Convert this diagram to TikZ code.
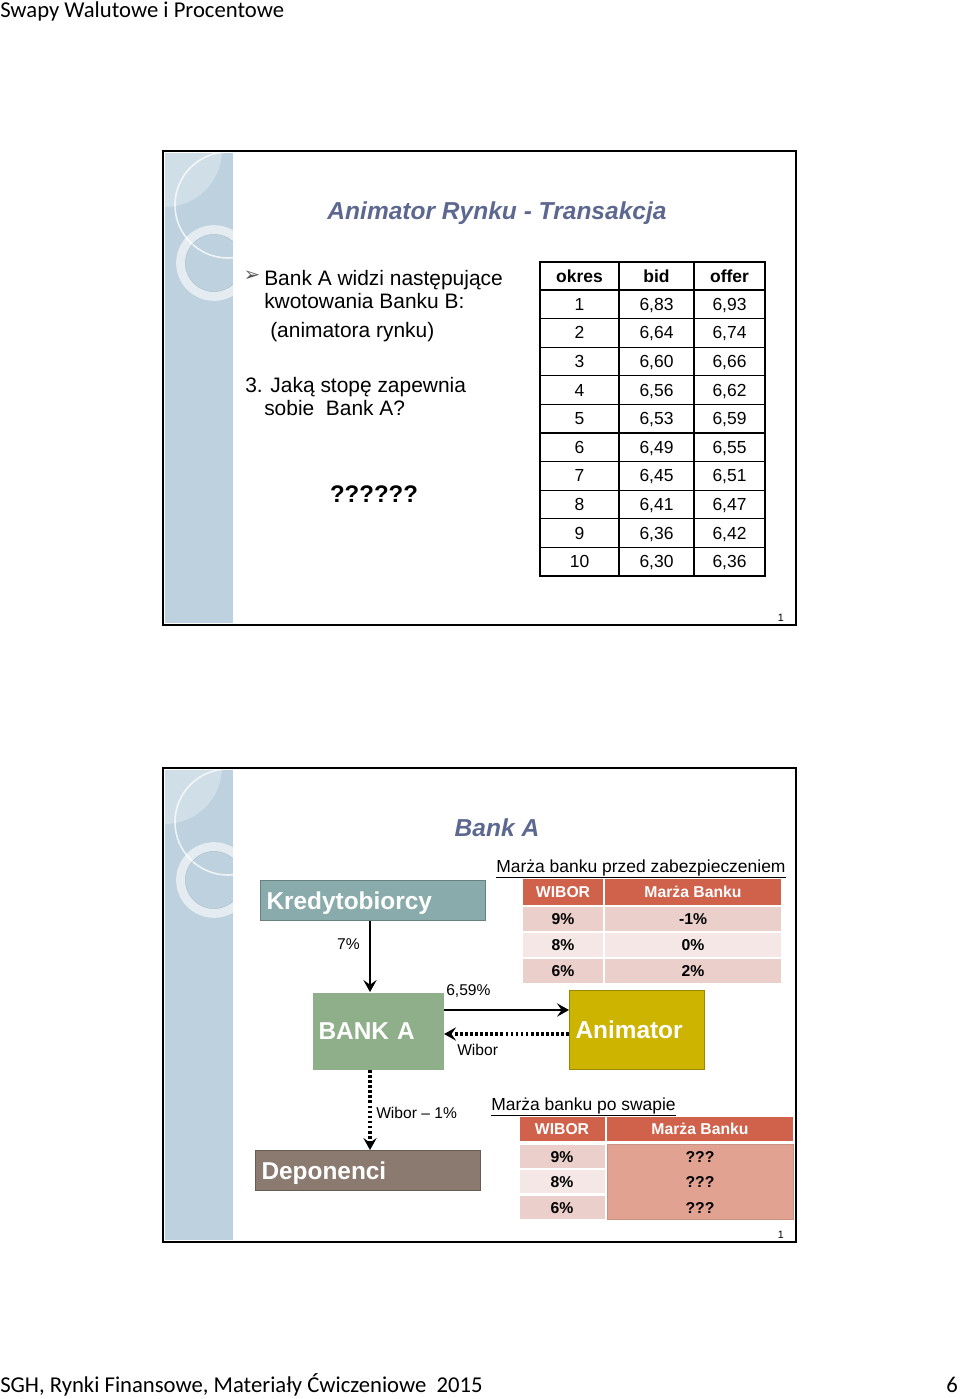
\documentclass[tikz,border=0pt]{standalone}
\usepackage{fontspec}
\setmainfont{Liberation Sans}
\newfontfamily\hdrfont{Carlito}
\newfontfamily\symfont{DejaVu Sans}
\usetikzlibrary{arrows.meta}

\definecolor{stripblue}{HTML}{BDD1DE}
\definecolor{titleblue}{HTML}{5D6890}
\definecolor{kredfill}{HTML}{8AABAB}
\definecolor{bankfill}{HTML}{8FAF8A}
\definecolor{animfill}{HTML}{CCB400}
\definecolor{depofill}{HTML}{8A7A70}
\definecolor{hdrred}{HTML}{D0614B}
\definecolor{pk}{HTML}{EBCFCB}
\definecolor{pl}{HTML}{F5E7E5}
\definecolor{salmon}{HTML}{E2A292}

\newcommand{\setfs}[1]{\fontsize{#1pt}{#1pt}\selectfont}

\tikzset{
  txt/.style={inner sep=0pt, anchor=base west},
  cell/.style={inner sep=0pt, anchor=base, font=\bfseries\setfs{11.8}},
  party/.style={draw=#1!75!black, fill=#1, line width=0.8pt, text=white,
    font=\bfseries\setfs{18.3}, inner xsep=4.5pt, inner ysep=0pt,
    text depth=0pt, align=left, anchor=north west},
  flow/.style={line width=1.8pt, -{Stealth[length=9pt,width=10pt,inset=3.5pt]}},
  flowdot/.style={flow, line width=2.3pt, dash pattern=on 2pt off 1.8pt}
}

\begin{document}
\begin{tikzpicture}[x=0.75pt, y=-0.75pt]
\useasboundingbox (0,0) rectangle (960,1399);

% page header and footer
\node[txt, font=\hdrfont\setfs{17}] (hdr) at (0,17.5) {Swapy Walutowe i Procentowe};
\node[txt, font=\hdrfont\setfs{17}] (foot) at (0,1392)
  {SGH, Rynki Finansowe, Materiały Ćwiczeniowe\ \ 2015};
\node[txt, anchor=base east, font=\hdrfont\setfs{17}] (pgno) at (958,1392) {6};

% both slides: strip, decoration, frame
\foreach \oy in {151,768} {
  \fill[stripblue] (165,{\oy+2}) rectangle (233,{\oy+472});
  \scope
  \clip (165,{\oy+2}) rectangle (233,{\oy+472});
  \fill[white, opacity=0.3] (165,{\oy-1}) circle [radius=42.75pt];
  \draw[white, opacity=0.75, line width=1.2pt] (228,{\oy+54}) circle [radius=39.75pt];
  \draw[white, opacity=0.6, line width=6.75pt] (214,{\oy+112}) circle [radius=25pt];
  \draw[stripblue!80!black, opacity=0.35, line width=0.5pt] (214,{\oy+112}) circle [radius=21.5pt];
  \endscope
  \draw[line width=1.5pt] (163,\oy) rectangle (796,{\oy+474});
  \node[txt, anchor=base east, font=\setfs{8}] at (784,{\oy+470}) {1};
}

% slide 1
\node[inner sep=0pt, anchor=base, text=titleblue, font=\bfseries\itshape\setfs{18.4}]
  (title1) at (497,219) {Animator Rynku - Transakcja};
\node[inner sep=0pt, text=black!65, font=\symfont\setfs{15}] (bull) at (252,276.5) {➢};
\node[txt, font=\setfs{15.7}] (q1) at (264,285) {Bank A widzi następujące};
\node[txt, font=\setfs{15.7}] (q2) at (264,308) {kwotowania Banku B:};
\node[txt, font=\setfs{15.7}] (q3) at (270,337) {(animatora rynku)};
\node[txt, font=\setfs{15.7}] (q4) at (245,392) {3. Jaką stopę zapewnia};
\node[txt, font=\setfs{15.7}] (q5) at (264,415) {sobie\ \ Bank A?};
\node[inner sep=0pt, anchor=base, font=\bfseries\setfs{18}] (qq) at (374,502) {??????};

% quote table
\draw[line width=0.8pt] (540,262) rectangle (765,576);
\foreach \c in {619,694} \draw[line width=0.8pt] (\c,262) -- (\c,576);
\foreach \r in {0,...,9} \draw[line width=0.8pt] (540,{290+28.6*\r}) -- (765,{290+28.6*\r});
\node[cell, font=\bfseries\setfs{13.1}] (okh) at (579.5,282) {okres};
\node[cell, font=\bfseries\setfs{13.1}] (bidh) at (656.5,282) {bid};
\node[cell, font=\bfseries\setfs{13.1}] (offh) at (729.5,282) {offer};
\foreach \r/\b/\o in {1/83/93, 2/64/74, 3/60/66, 4/56/62, 5/53/59,
                      6/49/55, 7/45/51, 8/41/47, 9/36/42, 10/30/36} {
  \node[cell, font=\setfs{13.1}] (ok\r) at (579.5,{290+28.6*(\r-0.5)+6}) {\r};
  \node[cell, font=\setfs{13.1}] (bid\r) at (656.5,{290+28.6*(\r-0.5)+6}) {6,\b};
  \node[cell, font=\setfs{13.1}] (off\r) at (729.5,{290+28.6*(\r-0.5)+6}) {6,\o};
}

% slide 2
\node[inner sep=0pt, anchor=base, text=titleblue, font=\bfseries\itshape\setfs{18.4}]
  (title2) at (497,836) {Bank A};

\node[party=kredfill, minimum height=30pt, text width=159.75pt] (kred) at (260,880) {Kredytobiorcy};
\node[party=bankfill, draw=none, minimum height=57.75pt, text width=89.25pt] (bankA) at (312,992) {BANK A};
\node[party=animfill, minimum height=59.25pt, text width=92.25pt] (anim) at (569,990) {Animator};
\node[party=depofill, minimum height=30pt, text width=159.75pt] (depon) at (255,1150) {Deponenci};

% flows
\coordinate (vx) at (370,0);
\coordinate (hy) at (0,1010);
\coordinate (wy) at (0,1034);
\draw[flow] (kred.south -| vx) -- (bankA.north -| vx);
\draw[flow] (bankA.east |- hy) -- (anim.west |- hy);
\draw[flowdot] (anim.west |- wy) -- (bankA.east |- wy);
\draw[flowdot] (bankA.south -| vx) -- (depon.north -| vx);
\node[txt, anchor=base east, font=\setfs{11.7}] (r7) at (360,949.5) {7\%};
\node[txt, font=\setfs{11.7}] (r659) at (446,995) {6,59\%};
\node[txt, font=\setfs{11.7}] (rwib) at (457,1055) {Wibor};
\node[txt, font=\setfs{11.7}] (rdep) at (376,1118) {Wibor – 1\%};

% margin before hedge
\node[txt, font=\setfs{13.1}] (pre) at (496,872) {\underline{Marża banku przed zabezpieczeniem}};
\fill[hdrred] (523,879) rectangle (603,905);
\fill[hdrred] (605,879) rectangle (781,905);
\node[cell, text=white] (preh1) at (563,897.5) {WIBOR};
\node[cell, text=white] (preh2) at (693,897.5) {Marża Banku};
\foreach \y/\w/\m/\f in {907/9/-1/pk, 933/8/0/pl, 959/6/2/pk} {
  \fill[\f] (523,\y) rectangle (603,{\y+24});
  \fill[\f] (605,\y) rectangle (781,{\y+24});
  \node[cell] (prew\w) at (563,{\y+17.6}) {\w\%};
  \node[cell] (prem\w) at (693,{\y+17.6}) {\m\%};
}

% margin after swap
\node[txt, font=\setfs{13.1}] (post) at (491,1110) {\underline{Marża banku po swapie}};
\fill[hdrred] (520,1117) rectangle (605,1141);
\fill[hdrred] (607,1117) rectangle (793,1141);
\node[cell, text=white] (posth1) at (562,1134.6) {WIBOR};
\node[cell, text=white] (posth2) at (700,1134.6) {Marża Banku};
\filldraw[fill=salmon, draw=salmon!90!black, line width=0.6pt] (607,1144) rectangle (793,1219);
\foreach \y/\w/\f in {1145/9/pk, 1170/8/pl, 1196/6/pk} {
  \fill[\f] (520,\y) rectangle (605,{\y+23});
  \node[cell] (postw\w) at (562,{\y+17.1}) {\w\%};
  \node[cell] (postm\w) at (700,{\y+17.1}) {???};
}
\end{tikzpicture}
\end{document}
